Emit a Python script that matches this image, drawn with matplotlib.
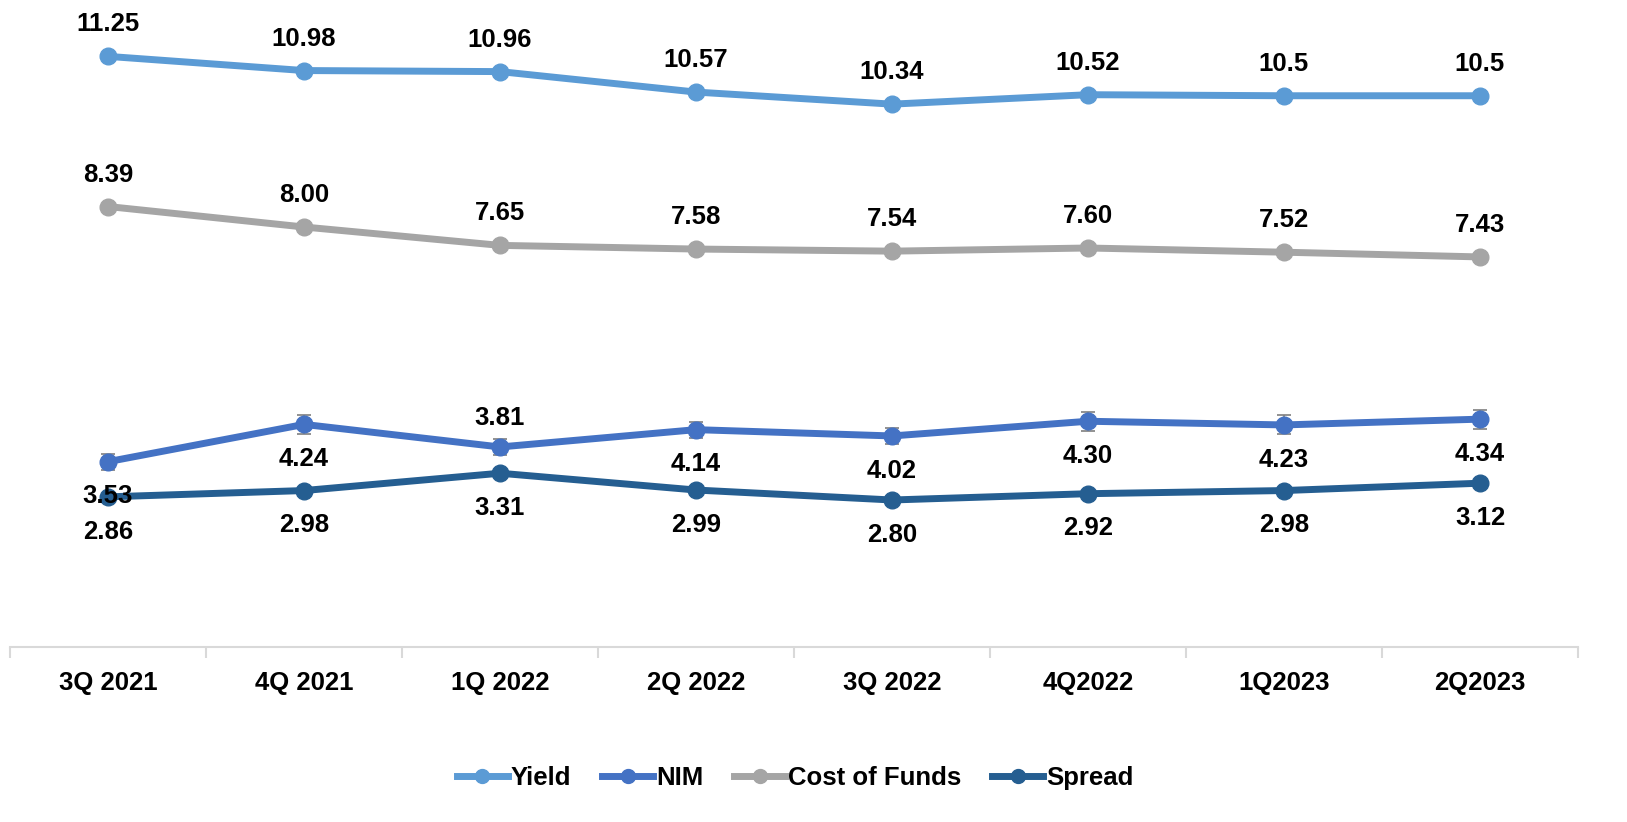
import matplotlib
matplotlib.use('Agg')
import numpy as np
from matplotlib import pyplot as plt
from matplotlib.lines import Line2D

plt.rcParams['font.family'] = ['Liberation Sans', 'DejaVu Sans']
plt.rcParams['font.weight'] = 'bold'

quarters = ['3Q 2021', '4Q 2021', '1Q 2022', '2Q 2022', '3Q 2022', '4Q2022', '1Q2023', '2Q2023']
yield_vals = [11.25, 10.98, 10.96, 10.57, 10.34, 10.52, 10.5, 10.5]
yield_txt = ['11.25', '10.98', '10.96', '10.57', '10.34', '10.52', '10.5', '10.5']
nim_vals = [3.53, 4.24, 3.81, 4.14, 4.02, 4.30, 4.23, 4.34]
nim_err = [0.15, 0.18, 0.15, 0.15, 0.15, 0.18, 0.18, 0.18]
cof_vals = [8.39, 8.00, 7.65, 7.58, 7.54, 7.60, 7.52, 7.43]
spread_vals = [2.86, 2.98, 3.31, 2.99, 2.80, 2.92, 2.98, 3.12]

# label side for each point (+1 above, -1 below)
nim_side = [-1, -1, 1, -1, -1, -1, -1, -1]

c_yield = '#5B9BD5'
c_nim = '#4472C4'
c_cof = '#A5A5A5'
c_spread = '#255E91'

fig = plt.figure(figsize=(16.27, 8.22), dpi=100)
ax = fig.add_axes([10/1627, 1-647/822, 1568/1627, 630/822])
x = np.arange(len(quarters))

lw = 5
ms = 12
ax.plot(x, yield_vals, color=c_yield, lw=lw, marker='o', ms=ms, zorder=3)
ax.plot(x, cof_vals, color=c_cof, lw=lw, marker='o', ms=ms, zorder=3)
ax.errorbar(x, nim_vals, yerr=nim_err, fmt='none', ecolor='#7F7F7F', elinewidth=1.2,
            capsize=5, capthick=1.2, zorder=2)
ax.plot(x, nim_vals, color=c_nim, lw=lw, marker='o', ms=ms, zorder=3)
ax.plot(x, spread_vals, color=c_spread, lw=lw, marker='o', ms=ms, zorder=4)

fs = 18.5
for i in range(len(x)):
    ax.annotate(yield_txt[i], (x[i], yield_vals[i]), xytext=(0, 23), textcoords='offset points',
                ha='center', va='center', fontsize=fs, fontweight='bold', zorder=5)
    ax.annotate('%.2f' % cof_vals[i], (x[i], cof_vals[i]), xytext=(0, 23), textcoords='offset points',
                ha='center', va='center', fontsize=fs, fontweight='bold', zorder=5)
    off = 21 if nim_side[i] > 0 else -25
    ax.annotate('%.2f' % nim_vals[i], (x[i], nim_vals[i]), xytext=(0, off), textcoords='offset points',
                ha='center', va='center', fontsize=fs, fontweight='bold', zorder=5)
    ax.annotate('%.2f' % spread_vals[i], (x[i], spread_vals[i]), xytext=(0, -25), textcoords='offset points',
                ha='center', va='center', fontsize=fs, fontweight='bold', zorder=5)

ax.set_xlim(-0.5, len(quarters) - 0.5)
ax.set_ylim(0, 12)
ax.set_yticks([])
for s in ['top', 'right', 'left']:
    ax.spines[s].set_visible(False)
ax.spines['bottom'].set_color('#D9D9D9')
ax.spines['bottom'].set_linewidth(1.5)
ax.set_xticks(x)
ax.set_xticklabels(quarters, fontsize=fs, fontweight='bold')
ax.tick_params(axis='x', which='major', length=0, pad=17)
ax.set_xticks(np.arange(-0.5, len(quarters)), minor=True)
ax.tick_params(axis='x', which='minor', length=8, width=1.5, color='#D9D9D9')

handles = [Line2D([], [], color=c, lw=lw, marker='o', ms=10) for c in [c_yield, c_nim, c_cof, c_spread]]
fig.legend(handles, ['Yield', 'NIM', 'Cost of Funds', 'Spread'], loc='center',
           bbox_to_anchor=(795/1627, 1-778/822), ncol=4, frameon=False,
           prop={'size': fs, 'weight': 'bold'}, handlelength=2.0, handletextpad=0.1,
           columnspacing=1.2)

fig.savefig('out.png', dpi=100)
